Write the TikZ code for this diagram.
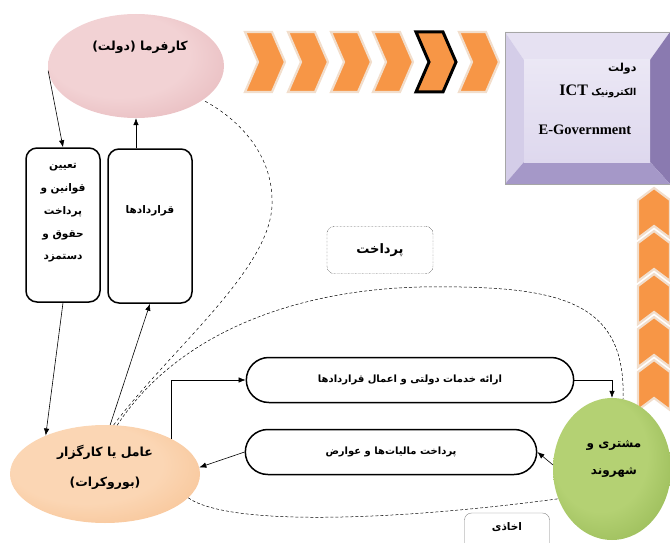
\documentclass[tikz,border=0pt]{standalone}
\usepackage{fontspec}
\usetikzlibrary{shapes.geometric,shapes.misc,calc,arrows.meta}
\TeXXeTstate=1
\newfontfamily\farsifont[Script=Arabic]{DejaVu Sans}
\newfontfamily\latinfont{Liberation Serif}
\newcommand{\fatxt}[1]{{\farsifont\bfseries\beginR #1\endR}}
\definecolor{chevfill}{RGB}{247,150,70}
\definecolor{chevrim}{RGB}{242,222,204}
\definecolor{pinkin}{RGB}{242,210,212}
\definecolor{pinkout}{RGB}{218,158,163}
\definecolor{peachin}{RGB}{251,214,180}
\definecolor{peachout}{RGB}{243,174,114}
\definecolor{greenin}{RGB}{180,209,115}
\definecolor{greenout}{RGB}{118,158,52}
\definecolor{lavface}{RGB}{222,216,238}
\definecolor{lavtop}{RGB}{230,225,242}
\definecolor{lavleft}{RGB}{212,205,232}
\definecolor{lavright}{RGB}{138,122,176}
\definecolor{lavbot}{RGB}{165,152,200}
\colorlet{ovalin}{white}
\colorlet{ovalout}{gray}
\pgfdeclareradialshading[ovalin,ovalout]{softoval}{\pgfpoint{-8bp}{8bp}}%
  {color(0bp)=(ovalin); color(20bp)=(ovalin); color(52bp)=(ovalout)}

\begin{document}
\begin{tikzpicture}[x=1pt,y=-1pt,
    arr/.style={-{Latex[length=7pt,width=5.5pt]}, line width=0.6pt},
   chev/.style={fill=chevfill, draw=chevrim, line width=2.2pt, line join=miter},
   rbox/.style={rectangle, draw, line width=1.5pt, rounded corners=11pt,% tall boxes on the left
                minimum width=74pt, minimum height=154pt},
   boxtxt/.style={align=center, font=\fontsize{10.5}{22.8}\selectfont},
   pill/.style={rounded rectangle, draw, line width=1.5pt,% the two long middle boxes
                minimum height=45pt, font=\fontsize{10}{11}\selectfont},
   oval/.style 2 args={ellipse, draw=none, inner sep=0pt,
                /utils/exec={\colorlet{ovalin}{#1}\colorlet{ovalout}{#2}},
                shading=softoval},
                    ]
\useasboundingbox (0,0) rectangle (670,543);
\clip (0,0) rectangle (670,543);

% arrows of chevrons
\foreach \x in {245,288,331,373,459}% <-- left corner of each chevron
    \draw[chev] (\x,32) -- ++(27,0) -- ++(13,30) -- ++(-13,30) -- ++(-27,0) -- ++(13,-30) -- cycle;
\draw[chev, draw=black, line width=3pt] (416,32) -- ++(27,0) -- ++(13,30) -- ++(-13,30) -- ++(-27,0) -- ++(13,-30) -- cycle;
\foreach \y in {188,231,274,317,360}% <-- tip of each upward chevron
    \draw[chev] (638,\y+12) -- (654,\y) -- (670,\y+12) -- (670,\y+50) -- (654,\y+38) -- (638,\y+50) -- cycle;

% bevelled box
\fill[lavtop]   (505,32) -- (670,32) -- (650,60) -- (524,60) -- cycle;
\fill[lavleft]  (505,32) -- (524,60) -- (524,162) -- (505,184) -- cycle;
\fill[lavright] (670,32) -- (670,184) -- (650,162) -- (650,60) -- cycle;
\fill[lavbot]   (505,184) -- (670,184) -- (650,162) -- (524,162) -- cycle;
\node[rectangle, minimum width=126pt, minimum height=102pt, inner sep=0pt,
      top color=lavface!60!white, bottom color=lavface] (egov) at (587,111) {};
\draw[gray!70] (505,32) rectangle (670,184);
\node[anchor=east, font=\fontsize{11}{12}\selectfont] (egovA) at (640,69) {\fatxt{دولت}};
\node[anchor=east, font=\fontsize{9.5}{12}\selectfont] (egovB) at (640,91)
     {\fatxt{الکترونیک {\latinfont\fontsize{16}{16}\selectfont ICT}}};
\node[font=\latinfont\bfseries\fontsize{14.5}{16}\selectfont] (egovC) at (585,130) {E-Government};

% ellipses
\node[oval={pinkin}{pinkout}, minimum width=176pt, minimum height=104pt] (karfarma) at (136,66) {};
\node[font=\fontsize{12.5}{14}\selectfont] at ($(karfarma)+(4,-19)$) {\fatxt{کارفرما (دولت)}};
\node[oval={peachin}{peachout}, minimum width=190pt, minimum height=98pt] (amel) at (105,474) {};
\node[align=center, font=\fontsize{12.5}{30}\selectfont] at ($(amel)+(0,-7)$)
     {\fatxt{عامل یا کارگزار}\\ \fatxt{(بوروکرات)}};
\node[oval={greenin}{greenout}, minimum width=118pt, minimum height=142pt] (moshtari) at (612,469) {};
\node[align=center, font=\fontsize{12}{27}\selectfont] at ($(moshtari)+(2,-10)$)
     {\fatxt{مشتری و}\\ \fatxt{شهروند}};

% boxes
\node[rbox, label={[boxtxt, yshift=12pt]center:{\fatxt{تعیین}\\ \fatxt{قوانین و}\\
      \fatxt{پرداخت}\\ \fatxt{حقوق و}\\ \fatxt{دستمزد}}}] (qavanin) at (63,225) {};
\node[rbox, minimum width=84pt, label={[boxtxt, yshift=15pt]center:\fatxt{قراردادها}}] (qarardad) at (150,226) {};
\node[pill, minimum width=334pt] (khadamat) at (410,380) {\fatxt{ارائه خدمات دولتی و اعمال قراردادها}};
\node[pill, minimum width=298pt] (maliat) at (391,452) {\fatxt{پرداخت مالیات‌ها و عوارض}};
\node[rectangle, draw, densely dotted, rounded corners=7pt, minimum width=106pt, minimum height=47pt,
      font=\fontsize{13}{14}\selectfont] (pardakht) at (380,250) {\fatxt{پرداخت}};
\node[rectangle, draw=gray, rounded corners=7pt, minimum width=85pt, minimum height=44pt,
      text depth=0pt, font=\fontsize{10.5}{11}\selectfont] (akhazi) at (507,535) {\raisebox{16pt}{\fatxt{اخاذی}}};

% connectors
\draw[arr] (karfarma.183) -- (qavanin.north);
\draw[arr] (qarardad.north -| karfarma.south) -- (karfarma.south);
\draw[arr] (qavanin.south) -- (amel.147);
\draw[arr] (amel.84) -- (qarardad.south);
\draw[arr] (amel.28) |- (khadamat.west);
\draw[arr] (khadamat.east) -| (moshtari.north);
\draw[arr] (moshtari.176) -- (maliat.east);
\draw[arr] (maliat.west) -- (amel.4);
\draw[dashed, line width=0.5pt] (amel.80) .. controls (170,350) and (270,270) .. (272,205)
     .. controls (274,150) and (232,115) .. (karfarma.-27);
\draw[densely dashed, line width=0.5pt] (amel.76) .. controls (180,330) and (300,290) .. (420,287)
     .. controls (560,285) and (626,300) .. (moshtari.81);
\draw[densely dashed, line width=0.5pt] (amel.-16) .. controls (230,527) and (400,520) .. (moshtari.209);
\end{tikzpicture}
\end{document}
